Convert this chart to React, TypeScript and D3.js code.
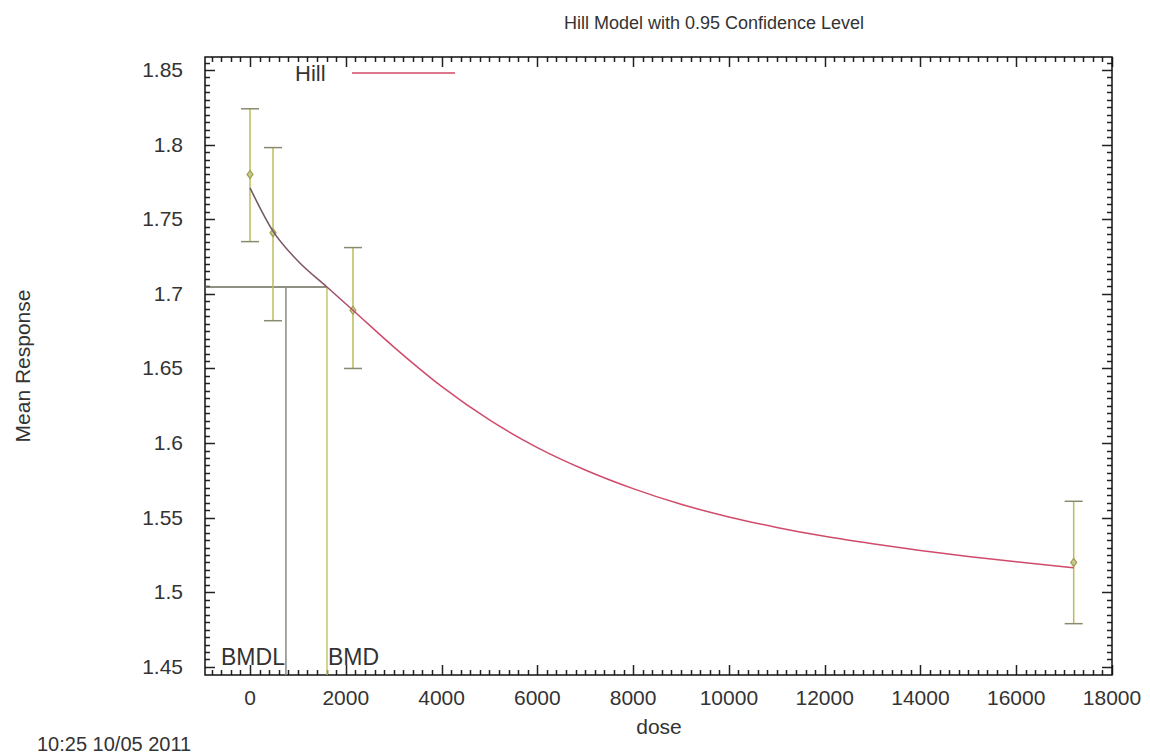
import * as d3 from 'd3';

// observed data (dose groups)
const doses = [0, 480, 2150, 17200];
const means = [1.78, 1.741, 1.689, 1.52];
const lower = [1.735, 1.682, 1.65, 1.479];
const upper = [1.824, 1.798, 1.731, 1.561];

// fitted Hill curve
const hillDose = [0, 480, 1000, 1607, 2150, 3000, 4000, 5000, 6000, 7000, 8000, 9000, 10000, 11000, 12000, 13000, 14000, 15000, 16000, 17200];
const hillResp = [1.771, 1.742, 1.722, 1.7046, 1.689, 1.6645, 1.638, 1.6155, 1.597, 1.582, 1.5695, 1.559, 1.5505, 1.5435, 1.5375, 1.5325, 1.528, 1.524, 1.5205, 1.5165];

const bmd = 1607;
const bmdl = 750;
const bmdResp = 1.7046;

const xTicks = [0, 2000, 4000, 6000, 8000, 10000, 12000, 14000, 16000, 18000];
const yTicks = [1.45, 1.5, 1.55, 1.6, 1.65, 1.7, 1.75, 1.8, 1.85];
const yLabels = ['1.45', '1.5', '1.55', '1.6', '1.65', '1.7', '1.75', '1.8', '1.85'];

const W = 1150;
const H = 755;
const left = 205, right = 1112, top = 57, bottom = 675;
const font = '"Liberation Sans", Arial, sans-serif';

export default function App() {
  const x = d3.scaleLinear().domain([-940, 18000]).range([left, right]);
  const y = d3.scaleLinear().domain([1.4446, 1.8587]).range([bottom, top]);

  const xMinor = d3.range(-800, 18001, 200).filter(v => v % 2000 !== 0);
  const yMinor = d3.range(1450, 1856, 5).map(v => v / 1000).filter(v => Math.round(v * 1000) % 50 !== 0);

  const line = d3.line<number>()
    .x((_, i) => x(hillDose[i]))
    .y(d => y(d))
    .curve(d3.curveMonotoneX);

  const tickCol = '#222';
  const barCol = '#bcbc5c';
  const capCol = '#8a8a70';

  // tick marks as one path each so they're drawn crisp
  const minorPath =
    xMinor.map(v => `M${Math.round(x(v)) + 0.5},${bottom}v-5M${Math.round(x(v)) + 0.5},${top}v5`).join('') +
    yMinor.map(v => `M${left},${Math.round(y(v)) + 0.5}h5M${right},${Math.round(y(v)) + 0.5}h-5`).join('');
  const majorPath =
    xTicks.map(v => `M${Math.round(x(v)) + 0.5},${bottom}v-10M${Math.round(x(v)) + 0.5},${top}v10`).join('') +
    yTicks.map(v => `M${left},${Math.round(y(v)) + 0.5}h10M${right},${Math.round(y(v)) + 0.5}h-10`).join('');

  return (
    <svg width={W} height={H} style={{ position: 'absolute', left: 0, top: 0, background: '#fff' }} fontFamily={font}>
      <text x={714} y={29} fontSize={18} textAnchor="middle" fill="#333">Hill Model with 0.95 Confidence Level</text>

      <path d={minorPath} stroke={tickCol} strokeWidth={1.5} fill="none" />
      <path d={majorPath} stroke={tickCol} strokeWidth={1.5} fill="none" />

      {xTicks.map(v => (
        <text key={'x' + v} x={x(v)} y={705} fontSize={21} textAnchor="middle" fill="#333">{v}</text>
      ))}
      {yTicks.map((v, i) => (
        <text key={'y' + v} x={183} y={y(v) + 7} fontSize={21} textAnchor="end" fill="#333">{yLabels[i]}</text>
      ))}

      <rect x={left} y={top} width={right - left} height={bottom - top} fill="none" stroke="#111" strokeWidth={1.5} />

      <text transform="translate(30,366) rotate(-90)" fontSize={21} textAnchor="middle" fill="#333">Mean Response</text>
      <text x={659} y={734} fontSize={21} textAnchor="middle" fill="#333">dose</text>
      <text x={37} y={751} fontSize={20} fill="#333">10:25 10/05 2011</text>

      {/* legend */}
      <text x={295} y={81} fontSize={22} fill="#333">Hill</text>
      <line x1={352} x2={455} y1={73} y2={73} stroke="#d04a6a" strokeWidth={1.5} />

      {/* BMD lines */}
      <line x1={left} x2={x(bmd)} y1={y(bmdResp)} y2={y(bmdResp)} stroke="#6a6a5a" strokeWidth={1.5} />
      <line x1={x(bmdl)} x2={x(bmdl)} y1={y(bmdResp)} y2={bottom} stroke="#8a8a80" strokeWidth={1.5} />
      <line x1={x(bmd)} x2={x(bmd)} y1={y(bmdResp)} y2={bottom} stroke="#c2c86a" strokeWidth={1.5} />
      <text x={x(bmdl) - 1} y={665} fontSize={23} textAnchor="end" fill="#333">BMDL</text>
      <text x={x(bmd) + 1} y={665} fontSize={23} fill="#333">BMD</text>

      {/* error bars */}
      {doses.map((d, i) => (
        <g key={'e' + d}>
          <line x1={x(d)} x2={x(d)} y1={y(lower[i])} y2={y(upper[i])} stroke={barCol} strokeWidth={1.5} />
          <line x1={x(d) - 9} x2={x(d) + 9} y1={y(lower[i])} y2={y(lower[i])} stroke={capCol} strokeWidth={1.5} />
          <line x1={x(d) - 9} x2={x(d) + 9} y1={y(upper[i])} y2={y(upper[i])} stroke={capCol} strokeWidth={1.5} />
          <path d={`M${x(d)},${y(means[i]) - 4}L${x(d) + 3},${y(means[i])}L${x(d)},${y(means[i]) + 4}L${x(d) - 3},${y(means[i])}Z`} fill="#c8c890" stroke="#a0a050" strokeWidth={1.2} />
        </g>
      ))}

      {/* Hill curve */}
      <defs>
        <linearGradient id="hillGrad" x1={x(0)} x2={x(17200)} y1={0} y2={0} gradientUnits="userSpaceOnUse">
          <stop offset="0" stopColor="#6a5a62" />
          <stop offset="0.09" stopColor="#8a5066" />
          <stop offset="0.14" stopColor="#d04a6a" />
          <stop offset="1" stopColor="#d04a6a" />
        </linearGradient>
      </defs>
      <path d={line(hillResp) || ''} fill="none" stroke="url(#hillGrad)" strokeWidth={1.5} />
    </svg>
  );
}
